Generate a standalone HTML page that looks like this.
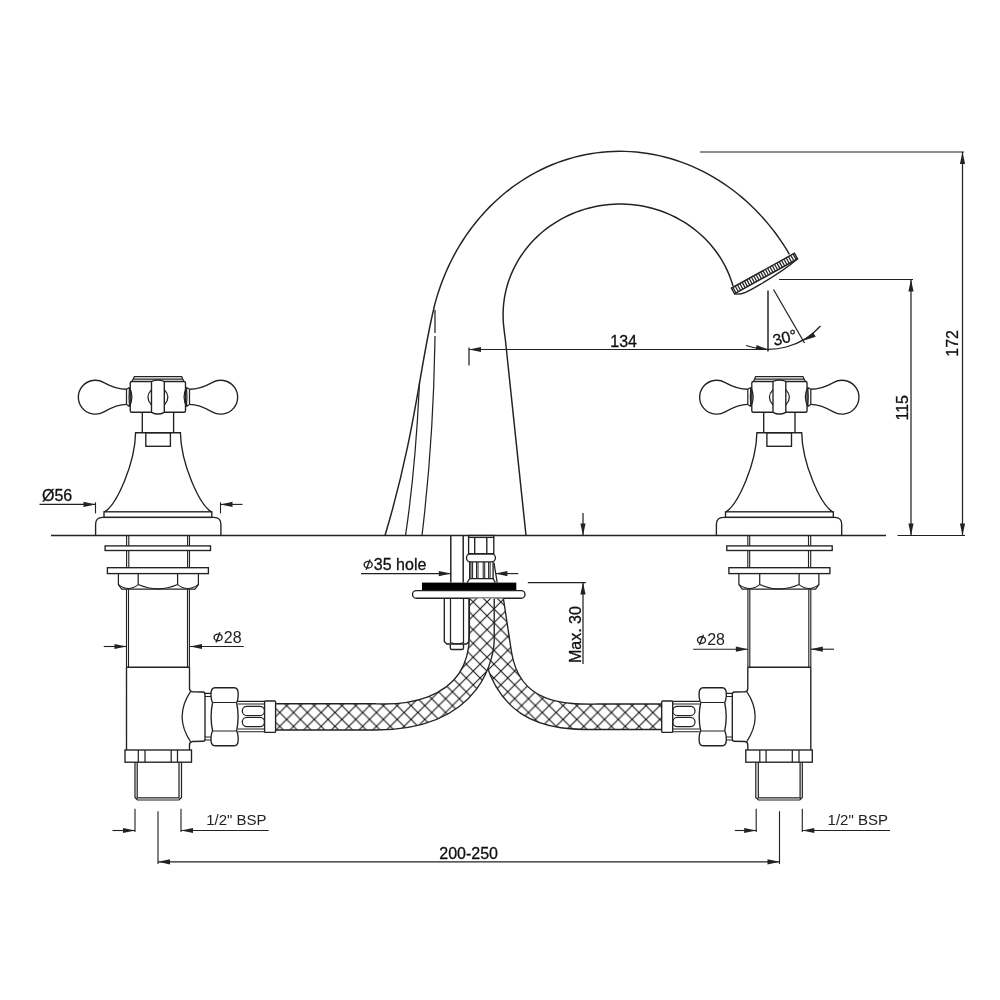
<!DOCTYPE html>
<html><head><meta charset="utf-8"><style>
html,body{margin:0;padding:0;background:#fff;}
svg{display:block;will-change:transform;}
</style></head><body>
<svg width="1000" height="1000" viewBox="0 0 1000 1000" fill="none" stroke="#222" stroke-linecap="butt" font-family="'Liberation Sans', sans-serif">
<rect x="0" y="0" width="1000" height="1000" fill="#fff" stroke="none"/>
<g stroke-width="1.36">
<line x1="51" y1="535.5" x2="886" y2="535.5" stroke-width="1.36"/>
<line x1="897.5" y1="535.5" x2="965" y2="535.5" stroke-width="1.24"/>
</g>
<path d="M385,535.5 C415.72,433.12 420.18,363.29 434.00,308.00 L433.85,307.97 L435.44,301.91 L437.20,295.87 L439.11,289.93 L441.17,284.06 L443.40,278.22 L445.76,272.50 L448.28,266.86 L450.97,261.28 L453.78,255.82 L456.75,250.42 L459.85,245.16 L463.08,240.00 L466.47,234.92 L469.98,229.99 L473.61,225.18 L477.39,220.46 L481.28,215.89 L485.28,211.45 L489.43,207.12 L493.66,202.96 L498.01,198.93 L502.48,195.03 L507.04,191.30 L511.72,187.69 L516.46,184.27 L521.30,180.99 L526.25,177.86 L531.26,174.91 L536.34,172.13 L541.53,169.49 L546.76,167.04 L552.05,164.77 L557.44,162.65 L562.85,160.72 L568.31,158.96 L573.85,157.38 L579.41,155.98 L584.99,154.76 L590.65,153.72 L596.30,152.87 L602.01,152.20 L607.70,151.71 L613.41,151.41 L619.16,151.29 L624.88,151.36 L630.60,151.61 L636.35,152.04 L642.05,152.66 L647.74,153.46 L653.45,154.46 L659.09,155.62 L664.71,156.97 L670.33,158.50 L675.87,160.21 L681.37,162.09 L686.85,164.16 L692.25,166.39 L697.63,168.81 L702.91,171.38 L708.12,174.12 L713.30,177.04 L718.37,180.11 L723.36,183.34 L728.29,186.74 L733.11,190.28 L737.84,193.97 L742.50,197.83 L747.03,201.82 L751.46,205.94 L755.81,210.23 L760.02,214.63 L764.15,219.19 L768.13,223.85 L771.99,228.63 L775.74,233.56 L779.35,238.58 L782.83,243.71 L786.19,248.97 L789.40,254.31" stroke-width="1.47"/>
<path d="M733,286 L733.00,286.00 L731.81,282.08 L730.46,278.21 L728.97,274.39 L727.33,270.62 L725.54,266.91 L723.61,263.27 L721.54,259.70 L719.34,256.22 L717.00,252.80 L714.52,249.46 L711.92,246.22 L709.20,243.06 L706.35,240.00 L703.38,237.05 L700.31,234.20 L697.12,231.46 L693.83,228.83 L690.44,226.32 L686.95,223.93 L683.37,221.66 L679.71,219.52 L675.97,217.50 L672.15,215.62 L668.28,213.88 L664.32,212.27 L660.30,210.80 L656.23,209.47 L652.11,208.28 L647.95,207.24 L643.75,206.34 L639.52,205.59 L635.26,204.99 L630.98,204.53 L626.68,204.23 L622.38,204.07 L618.07,204.07 L613.77,204.22 L609.47,204.51 L605.19,204.96 L600.95,205.55 L596.72,206.29 L592.51,207.18 L588.35,208.21 L584.22,209.39 L580.15,210.71 L576.13,212.17 L572.17,213.77 L568.27,215.51 L564.44,217.38 L560.69,219.39 L557.02,221.52 L553.44,223.78 L549.94,226.17 L546.55,228.67 L543.25,231.29 L540.06,234.01 L536.98,236.86 L534.00,239.80 L531.14,242.85 L528.41,246.00 L525.79,249.24 L523.31,252.57 L520.95,255.99 L518.73,259.48 L516.65,263.05 L514.71,266.69 L512.91,270.39 L511.25,274.15 L509.75,277.97 L508.39,281.84 L507.18,285.76 L506.13,289.69 L505.24,293.68 L504.49,297.69 L503.91,301.73 L503.48,305.79 L503.20,309.85 L503.09,313.93 L503.14,318.00 C503.1,322 503.6,327 505.4,340 L526,535.5" stroke-width="1.47"/>
<path d="M435,310 L435,333" stroke-width="1.24"/>
<path d="M435,336 C434.41,365.47 434.33,432.72 422.00,535.50" stroke-width="1.24"/>
<path d="M419.5,382.5 C418.37,405.13 415.97,465.71 405.50,535.50" stroke-width="1.24"/>
<g transform="translate(764.5,273.5) rotate(-29)">
<rect x="-36" y="-3.2" width="72" height="6.4" stroke-width="1.47"/>
<line x1="-34.40" y1="-3" x2="-34.40" y2="3" stroke-width="1.24"/>
<line x1="-31.75" y1="-3" x2="-31.75" y2="3" stroke-width="1.24"/>
<line x1="-29.10" y1="-3" x2="-29.10" y2="3" stroke-width="1.24"/>
<line x1="-26.45" y1="-3" x2="-26.45" y2="3" stroke-width="1.24"/>
<line x1="-23.80" y1="-3" x2="-23.80" y2="3" stroke-width="1.24"/>
<line x1="-21.15" y1="-3" x2="-21.15" y2="3" stroke-width="1.24"/>
<line x1="-18.50" y1="-3" x2="-18.50" y2="3" stroke-width="1.24"/>
<line x1="-15.85" y1="-3" x2="-15.85" y2="3" stroke-width="1.24"/>
<line x1="-13.20" y1="-3" x2="-13.20" y2="3" stroke-width="1.24"/>
<line x1="-10.55" y1="-3" x2="-10.55" y2="3" stroke-width="1.24"/>
<line x1="-7.90" y1="-3" x2="-7.90" y2="3" stroke-width="1.24"/>
<line x1="-5.25" y1="-3" x2="-5.25" y2="3" stroke-width="1.24"/>
<line x1="-2.60" y1="-3" x2="-2.60" y2="3" stroke-width="1.24"/>
<line x1="0.05" y1="-3" x2="0.05" y2="3" stroke-width="1.24"/>
<line x1="2.70" y1="-3" x2="2.70" y2="3" stroke-width="1.24"/>
<line x1="5.35" y1="-3" x2="5.35" y2="3" stroke-width="1.24"/>
<line x1="8.00" y1="-3" x2="8.00" y2="3" stroke-width="1.24"/>
<line x1="10.65" y1="-3" x2="10.65" y2="3" stroke-width="1.24"/>
<line x1="13.30" y1="-3" x2="13.30" y2="3" stroke-width="1.24"/>
<line x1="15.95" y1="-3" x2="15.95" y2="3" stroke-width="1.24"/>
<line x1="18.60" y1="-3" x2="18.60" y2="3" stroke-width="1.24"/>
<line x1="21.25" y1="-3" x2="21.25" y2="3" stroke-width="1.24"/>
<line x1="23.90" y1="-3" x2="23.90" y2="3" stroke-width="1.24"/>
<line x1="26.55" y1="-3" x2="26.55" y2="3" stroke-width="1.24"/>
<line x1="29.20" y1="-3" x2="29.20" y2="3" stroke-width="1.24"/>
<line x1="31.85" y1="-3" x2="31.85" y2="3" stroke-width="1.24"/>
<line x1="34.50" y1="-3" x2="34.50" y2="3" stroke-width="1.24"/>
<path d="M-36,3.2 C-31,8 -22,7.8 -10,7.5 C8,7.1 24,6 36,3.2" stroke-width="1.36"/>
</g>
<line x1="700" y1="152" x2="964" y2="152" stroke-width="1.24"/>
<line x1="962.5" y1="152" x2="962.5" y2="535.5" stroke-width="1.24"/>
<path d="M962.50,152.00 L965.10,164.00 L959.90,164.00Z" fill="#222" stroke="none"/>
<path d="M962.50,535.50 L959.90,523.50 L965.10,523.50Z" fill="#222" stroke="none"/>
<line x1="779" y1="279.5" x2="913" y2="279.5" stroke-width="1.24"/>
<line x1="911" y1="279.5" x2="911" y2="535.5" stroke-width="1.24"/>
<path d="M911.00,279.50 L913.60,291.50 L908.40,291.50Z" fill="#222" stroke="none"/>
<path d="M911.00,535.50 L908.40,523.50 L913.60,523.50Z" fill="#222" stroke="none"/>
<text fill="#111" stroke="#111" stroke-width="0.3" x="907.6" y="407.8" font-size="16" text-anchor="middle" transform="rotate(-90 907.6 407.8)">115</text>
<text fill="#111" stroke="#111" stroke-width="0.3" x="958" y="343.4" font-size="16" text-anchor="middle" transform="rotate(-90 958 343.4)">172</text>
<line x1="469" y1="349.5" x2="768" y2="349.5" stroke-width="1.24"/>
<line x1="469" y1="347.5" x2="469" y2="365.5" stroke-width="1.24"/>
<path d="M469.00,349.50 L481.00,346.90 L481.00,352.10Z" fill="#222" stroke="none"/>
<text fill="#111" stroke="#111" stroke-width="0.3" x="623.6" y="346.8" font-size="16" text-anchor="middle">134</text>
<line x1="768" y1="290.5" x2="768" y2="351.5" stroke-width="1.47"/>
<line x1="773.5" y1="289.5" x2="804.5" y2="343" stroke-width="1.24"/>
<path d="M746,345.5 A69.5,69.5 0 0 0 820.5,326" stroke-width="1.24"/>
<path d="M768.00,349.50 L755.73,350.05 L756.61,344.93Z" fill="#222" stroke="none"/>
<path d="M804.00,340.50 L813.07,332.22 L815.68,336.72Z" fill="#222" stroke="none"/>
<text fill="#111" stroke="#111" stroke-width="0.3" x="774.5" y="346" font-size="16" transform="rotate(-15 774.5 346)">30°</text>
<line x1="583" y1="513" x2="583" y2="535.5" stroke-width="1.24"/>
<path d="M583.00,535.50 L580.40,523.50 L585.60,523.50Z" fill="#222" stroke="none"/>
<line x1="450.8" y1="535.5" x2="450.8" y2="582.6" stroke-width="1.47"/>
<line x1="463.2" y1="535.5" x2="463.2" y2="582.6" stroke-width="1.47"/>
<rect x="468.6" y="535.5" width="25.2" height="18.3" stroke-width="1.36"/>
<line x1="468.6" y1="537.5" x2="493.8" y2="537.5" stroke-width="1.13"/>
<line x1="474.7" y1="537.5" x2="474.7" y2="553.8" stroke-width="1.36"/>
<line x1="486.8" y1="537.5" x2="486.8" y2="553.8" stroke-width="1.36"/>
<rect x="466.5" y="553.8" width="28.9" height="8.1" rx="4" stroke-width="1.36"/>
<path d="M469.7,561.9 L469.7,578.6 L493.1,578.6 L493.1,561.9" stroke-width="1.36"/>
<line x1="471" y1="562" x2="471" y2="578.6" stroke-width="1.02"/>
<line x1="472.6" y1="562" x2="472.6" y2="578.6" stroke-width="1.02"/>
<line x1="476.5" y1="562" x2="476.5" y2="578.6" stroke-width="1.02"/>
<line x1="478" y1="562" x2="478" y2="578.6" stroke-width="1.02"/>
<line x1="483.2" y1="562" x2="483.2" y2="578.6" stroke-width="1.02"/>
<line x1="484.7" y1="562" x2="484.7" y2="578.6" stroke-width="1.02"/>
<line x1="488.6" y1="562" x2="488.6" y2="578.6" stroke-width="1.02"/>
<line x1="490.1" y1="562" x2="490.1" y2="578.6" stroke-width="1.02"/>
<path d="M467,582.6 L469.7,578.6 M493.1,578.6 L495.4,582.6 M494,562.8 L497.2,582.6" stroke-width="1.24"/>
<rect x="422" y="582.6" width="94.3" height="7.9" fill="#000" stroke="none"/>
<rect x="412.5" y="590.6" width="112.5" height="7.6" rx="3.8" stroke-width="1.36"/>
<path d="M444.3,598.2 L444.3,641.5 L446.8,644 L466.5,644 L469,641.5 L469,598.2" stroke-width="1.36"/>
<path d="M450.5,598.2 L450.5,642.5 Q457,645 463.5,642.5 L463.5,598.2" stroke-width="1.24"/>
<path d="M450.3,644 L450.3,648 Q450.3,649.5 452,649.5 L461.8,649.5 Q463.5,649.5 463.5,648 L463.5,644" stroke-width="1.36"/>
<ellipse cx="368.20" cy="564.65" rx="4.0" ry="3.3" stroke-width="1.41"/>
<line x1="366.10" y1="569.70" x2="370.10" y2="559.40" stroke-width="1.41"/>
<text fill="#111" stroke="#111" stroke-width="0.3" x="373.85" y="570" font-size="16" text-anchor="start">35 hole</text>
<line x1="361" y1="573.6" x2="450.8" y2="573.6" stroke-width="1.13"/>
<path d="M450.80,573.60 L438.80,576.20 L438.80,571.00Z" fill="#222" stroke="none"/>
<line x1="495.4" y1="573.6" x2="518.3" y2="573.6" stroke-width="1.13"/>
<path d="M495.40,573.60 L507.40,571.00 L507.40,576.20Z" fill="#222" stroke="none"/>
<line x1="527.8" y1="582.6" x2="585.8" y2="582.6" stroke-width="1.24"/>
<line x1="583" y1="582.6" x2="583" y2="664" stroke-width="1.24"/>
<path d="M583.00,582.60 L585.60,594.60 L580.40,594.60Z" fill="#222" stroke="none"/>
<text fill="#111" stroke="#111" stroke-width="0.3" x="581.5" y="634.6" font-size="16" text-anchor="middle" transform="rotate(-90 581.5 634.6)">Max. 30</text>
<defs><pattern id="hatch" patternUnits="userSpaceOnUse" width="13.82" height="13.82" x="300.45" y="705.6"><path d="M-1,-1 L14.82,14.82 M14.82,-1 L-1,14.82" stroke="#111" stroke-width="1.05"/></pattern></defs>
<path d="M477.5,598.5 L477.5,599 C477.50,736.14 560.32,729.50 605.00,729.50 L661.4,729.5 L661.4,704 L605,704 C572.54,704.00 520.58,708.76 511.5,652 L503.4,598.5 Z" fill="#fff" stroke="none"/>
<path d="M477.5,598.5 L477.5,599 C477.50,736.14 560.32,729.50 605.00,729.50 L661.4,729.5 L661.4,704 L605,704 C572.54,704.00 520.58,708.76 511.5,652 L503.4,598.5 Z" fill="url(#hatch)" stroke="none"/>
<path d="M503.4,598.5 L511.5,652 C520.58,708.76 572.54,704.00 605.00,704.00 L661.4,704 M661.4,729.5 L605,729.5 C560.32,729.50 477.50,736.14 477.5,599" stroke-width="1.36"/>
<path d="M469.4,598.5 L469.4,635 C469.40,711.42 380.84,703.80 375.00,703.80 L275.5,703.8 L275.5,730 L375,730 C487.27,730.00 494.20,650.38 494.2,640 L494.2,598.5 Z" fill="#fff" stroke="none"/>
<path d="M469.4,598.5 L469.4,635 C469.40,711.42 380.84,703.80 375.00,703.80 L275.5,703.8 L275.5,730 L375,730 C487.27,730.00 494.20,650.38 494.2,640 L494.2,598.5 Z" fill="url(#hatch)" stroke="none"/>
<path d="M469.4,598.5 L469.4,635 C469.40,711.42 380.84,703.80 375.00,703.80 L275.5,703.8 M275.5,730 L375,730 C487.27,730.00 494.20,650.38 494.2,640 L494.2,598.5" stroke-width="1.36"/>
<g><path d="M126.5,389.3 C118,389.3 110,386 103.9,382.6 A16.95,16.95 0 1 0 103.9,411.8 C110,408.4 118,404.4 126.5,404.4" stroke-width="1.36"/>
<g transform="translate(316,0) scale(-1,1)"><path d="M126.5,389.3 C118,389.3 110,386 103.9,382.6 A16.95,16.95 0 1 0 103.9,411.8 C110,408.4 118,404.4 126.5,404.4" stroke-width="1.36"/></g>
<path d="M126.5,389.3 L129.5,387.4 M126.5,404.4 L129.5,406.6 M126.5,389.3 L126.5,404.4 M129.5,387.4 Q128.6,397 129.5,406.6 M129.5,387.4 Q134.3,397 129.5,406.6" stroke-width="1.24"/>
<path d="M189.5,389.3 L186.5,387.4 M189.5,404.4 L186.5,406.6 M189.5,389.3 L189.5,404.4 M186.5,387.4 Q187.4,397 186.5,406.6 M186.5,387.4 Q181.7,397 186.5,406.6" stroke-width="1.24"/>
<rect x="130.25" y="381.5" width="55.25" height="30.8" rx="1.5" stroke-width="1.36"/>
<path d="M132,381.5 L134.4,376.6 L181.7,376.6 L183.8,381.5 M132.8,379.1 L183.2,379.1" stroke-width="1.24"/>
<path d="M151.5,381.5 Q157.9,378.6 164.3,381.5 L164.3,412.3 Q157.9,415.8 151.5,412.3 Z" fill="#fff" stroke-width="1.36"/>
<path d="M151.5,389.6 Q144.2,397.3 151.5,405 M164.3,389.6 Q171.6,397.3 164.3,405" stroke-width="1.24"/>
<path d="M142.3,412.3 L142.3,432.7 M173.6,412.3 L173.6,432.7" stroke-width="1.36"/>
<path d="M104.7,511.8 C116.86,504.51 134.99,463.42 135.6,432.7 L180.4,432.7 C181.01,463.42 199.14,504.51 211.3,511.8" stroke-width="1.36"/>
<rect x="145.8" y="432.7" width="24.6" height="13.6" stroke-width="1.36"/>
<rect x="104" y="511.8" width="107.8" height="5.6" stroke-width="1.36"/>
<path d="M95.6,535.5 L95.6,524.4 Q95.6,517.4 102.6,517.4 L213.9,517.4 Q220.9,517.4 220.9,524.4 L220.9,535.5" stroke-width="1.36"/>
<path d="M126.6,535.5 L126.6,545.9 M128.8,535.5 L128.8,545.9 M187.6,535.5 L187.6,545.9 M189.5,535.5 L189.5,545.9 M126.6,550.5 L126.6,567.7 M128.8,550.5 L128.8,567.7 M187.6,550.5 L187.6,567.7 M189.5,550.5 L189.5,567.7" stroke-width="1.13"/>
<rect x="105.1" y="545.9" width="105.4" height="4.6" stroke-width="1.36"/>
<rect x="107.4" y="567.7" width="101" height="5.9" stroke-width="1.36"/>
<path d="M118.4,573.6 L118.4,584.6 L121.7,589.2 L195,589.2 L198.4,584.6 L198.4,573.6 M138.2,573.6 L138.2,584.6 M177.6,573.6 L177.6,584.6" stroke-width="1.24"/>
<path d="M118.6,584.6 Q128.4,592.4 138.2,584.6 Q157.9,593.2 177.6,584.6 Q187.4,592.4 198.2,584.6" stroke-width="1.13"/>
<path d="M126.5,589.2 L126.5,667.2 M128.5,589.2 L128.5,667.2 M189.4,589.2 L189.4,667.2 M187.5,589.2 L187.5,667.2" stroke-width="1.13"/>
<path d="M126.5,667.2 L189.5,667.2" stroke-width="1.36"/>
<path d="M126.5,667.2 L126.5,750 M189.5,667.2 L189.5,688.5 Q189.5,691.6 192.5,691.8 L203,692 Q205,692.2 205,694.5 L205,739 Q205,741.2 203,741.2 L192.5,741.5 Q189.5,741.8 189.5,745 L189.5,750" stroke-width="1.36"/>
<path d="M190.5,691.6 Q173.8,716.6 190.5,741.6" stroke-width="1.24"/>
<path d="M205,693.4 L211,693.4 M205,696.5 L211,696.5 M205,737 L211,737 M205,740 L211,740" stroke-width="1.13"/>
<path d="M212.6,702.5 Q211,700 211,694 Q211,687.8 215,687.8 L234.2,687.8 Q238.2,687.8 238.2,694 Q238.2,700 236.6,702.5 M212.6,731 Q211,733.5 211,739.5 Q211,745.7 215,745.7 L234.2,745.7 Q238.2,745.7 238.2,739.5 Q238.2,733.5 236.6,731" stroke-width="1.36"/>
<path d="M212.6,702.5 L236.6,702.5 M212.6,731 L236.6,731" stroke-width="1.24"/>
<path d="M212.6,702.5 Q209.6,716.75 212.6,731 M236.6,702.5 Q239.6,716.75 236.6,731" stroke-width="1.36"/>
<path d="M237.6,701.4 L265,701.4 M237.6,704 L265,704 M237.6,729 L265,729 M237.6,731.8 L265,731.8" stroke-width="1.13"/>
<rect x="242.3" y="706.3" width="22.2" height="9.2" rx="4.5" stroke-width="1.24"/>
<rect x="242.3" y="717.4" width="22.2" height="9.2" rx="4.5" stroke-width="1.24"/>
<rect x="264.6" y="701" width="11" height="31.4" rx="1" fill="#fff" stroke-width="1.36"/>
<rect x="125" y="750" width="66.5" height="12.2" stroke-width="1.36"/>
<path d="M138.3,750 L138.3,762.2 M145,750 L145,762.2 M171.2,750 L171.2,762.2 M177.5,750 L177.5,762.2" stroke-width="1.24"/>
<path d="M135,762.2 L135,797.5 L137.5,800 L179,800 L181.5,797.5 L181.5,762.2 M137.2,762.2 L137.2,797.8 L179,797.8 L179,762.2" stroke-width="1.24"/></g>
<g transform="translate(937.3,0) scale(-1,1)"><path d="M126.5,389.3 C118,389.3 110,386 103.9,382.6 A16.95,16.95 0 1 0 103.9,411.8 C110,408.4 118,404.4 126.5,404.4" stroke-width="1.36"/>
<g transform="translate(316,0) scale(-1,1)"><path d="M126.5,389.3 C118,389.3 110,386 103.9,382.6 A16.95,16.95 0 1 0 103.9,411.8 C110,408.4 118,404.4 126.5,404.4" stroke-width="1.36"/></g>
<path d="M126.5,389.3 L129.5,387.4 M126.5,404.4 L129.5,406.6 M126.5,389.3 L126.5,404.4 M129.5,387.4 Q128.6,397 129.5,406.6 M129.5,387.4 Q134.3,397 129.5,406.6" stroke-width="1.24"/>
<path d="M189.5,389.3 L186.5,387.4 M189.5,404.4 L186.5,406.6 M189.5,389.3 L189.5,404.4 M186.5,387.4 Q187.4,397 186.5,406.6 M186.5,387.4 Q181.7,397 186.5,406.6" stroke-width="1.24"/>
<rect x="130.25" y="381.5" width="55.25" height="30.8" rx="1.5" stroke-width="1.36"/>
<path d="M132,381.5 L134.4,376.6 L181.7,376.6 L183.8,381.5 M132.8,379.1 L183.2,379.1" stroke-width="1.24"/>
<path d="M151.5,381.5 Q157.9,378.6 164.3,381.5 L164.3,412.3 Q157.9,415.8 151.5,412.3 Z" fill="#fff" stroke-width="1.36"/>
<path d="M151.5,389.6 Q144.2,397.3 151.5,405 M164.3,389.6 Q171.6,397.3 164.3,405" stroke-width="1.24"/>
<path d="M142.3,412.3 L142.3,432.7 M173.6,412.3 L173.6,432.7" stroke-width="1.36"/>
<path d="M104.7,511.8 C116.86,504.51 134.99,463.42 135.6,432.7 L180.4,432.7 C181.01,463.42 199.14,504.51 211.3,511.8" stroke-width="1.36"/>
<rect x="145.8" y="432.7" width="24.6" height="13.6" stroke-width="1.36"/>
<rect x="104" y="511.8" width="107.8" height="5.6" stroke-width="1.36"/>
<path d="M95.6,535.5 L95.6,524.4 Q95.6,517.4 102.6,517.4 L213.9,517.4 Q220.9,517.4 220.9,524.4 L220.9,535.5" stroke-width="1.36"/>
<path d="M126.6,535.5 L126.6,545.9 M128.8,535.5 L128.8,545.9 M187.6,535.5 L187.6,545.9 M189.5,535.5 L189.5,545.9 M126.6,550.5 L126.6,567.7 M128.8,550.5 L128.8,567.7 M187.6,550.5 L187.6,567.7 M189.5,550.5 L189.5,567.7" stroke-width="1.13"/>
<rect x="105.1" y="545.9" width="105.4" height="4.6" stroke-width="1.36"/>
<rect x="107.4" y="567.7" width="101" height="5.9" stroke-width="1.36"/>
<path d="M118.4,573.6 L118.4,584.6 L121.7,589.2 L195,589.2 L198.4,584.6 L198.4,573.6 M138.2,573.6 L138.2,584.6 M177.6,573.6 L177.6,584.6" stroke-width="1.24"/>
<path d="M118.6,584.6 Q128.4,592.4 138.2,584.6 Q157.9,593.2 177.6,584.6 Q187.4,592.4 198.2,584.6" stroke-width="1.13"/>
<path d="M126.5,589.2 L126.5,667.2 M128.5,589.2 L128.5,667.2 M189.4,589.2 L189.4,667.2 M187.5,589.2 L187.5,667.2" stroke-width="1.13"/>
<path d="M126.5,667.2 L189.5,667.2" stroke-width="1.36"/>
<path d="M126.5,667.2 L126.5,750 M189.5,667.2 L189.5,688.5 Q189.5,691.6 192.5,691.8 L203,692 Q205,692.2 205,694.5 L205,739 Q205,741.2 203,741.2 L192.5,741.5 Q189.5,741.8 189.5,745 L189.5,750" stroke-width="1.36"/>
<path d="M190.5,691.6 Q173.8,716.6 190.5,741.6" stroke-width="1.24"/>
<path d="M205,693.4 L211,693.4 M205,696.5 L211,696.5 M205,737 L211,737 M205,740 L211,740" stroke-width="1.13"/>
<path d="M212.6,702.5 Q211,700 211,694 Q211,687.8 215,687.8 L234.2,687.8 Q238.2,687.8 238.2,694 Q238.2,700 236.6,702.5 M212.6,731 Q211,733.5 211,739.5 Q211,745.7 215,745.7 L234.2,745.7 Q238.2,745.7 238.2,739.5 Q238.2,733.5 236.6,731" stroke-width="1.36"/>
<path d="M212.6,702.5 L236.6,702.5 M212.6,731 L236.6,731" stroke-width="1.24"/>
<path d="M212.6,702.5 Q209.6,716.75 212.6,731 M236.6,702.5 Q239.6,716.75 236.6,731" stroke-width="1.36"/>
<path d="M237.6,701.4 L265,701.4 M237.6,704 L265,704 M237.6,729 L265,729 M237.6,731.8 L265,731.8" stroke-width="1.13"/>
<rect x="242.3" y="706.3" width="22.2" height="9.2" rx="4.5" stroke-width="1.24"/>
<rect x="242.3" y="717.4" width="22.2" height="9.2" rx="4.5" stroke-width="1.24"/>
<rect x="264.6" y="701" width="11" height="31.4" rx="1" fill="#fff" stroke-width="1.36"/>
<rect x="125" y="750" width="66.5" height="12.2" stroke-width="1.36"/>
<path d="M138.3,750 L138.3,762.2 M145,750 L145,762.2 M171.2,750 L171.2,762.2 M177.5,750 L177.5,762.2" stroke-width="1.24"/>
<path d="M135,762.2 L135,797.5 L137.5,800 L179,800 L181.5,797.5 L181.5,762.2 M137.2,762.2 L137.2,797.8 L179,797.8 L179,762.2" stroke-width="1.24"/></g>
<text fill="#111" stroke="#111" stroke-width="0.3" x="42" y="501" font-size="16" text-anchor="start">Ø56</text>
<line x1="39.5" y1="504.4" x2="95.5" y2="504.4" stroke-width="1.13"/>
<path d="M95.50,504.40 L83.50,507.00 L83.50,501.80Z" fill="#222" stroke="none"/>
<line x1="95.5" y1="502.3" x2="95.5" y2="513.4" stroke-width="1.13"/>
<line x1="220.5" y1="504.4" x2="242.5" y2="504.4" stroke-width="1.13"/>
<path d="M220.50,504.40 L232.50,501.80 L232.50,507.00Z" fill="#222" stroke="none"/>
<line x1="220.5" y1="502.3" x2="220.5" y2="513.4" stroke-width="1.13"/>
<ellipse cx="218.10" cy="637.40" rx="4.0" ry="3.3" stroke-width="1.41"/>
<line x1="216.00" y1="642.45" x2="220.00" y2="632.15" stroke-width="1.41"/>
<text fill="#222" stroke="none" x="223.75" y="642.75" font-size="16">28</text>
<line x1="103.7" y1="646.5" x2="126.5" y2="646.5" stroke-width="1.13"/>
<path d="M126.50,646.50 L114.50,649.10 L114.50,643.90Z" fill="#222" stroke="none"/>
<line x1="190" y1="646.5" x2="243.7" y2="646.5" stroke-width="1.13"/>
<path d="M190.00,646.50 L202.00,643.90 L202.00,649.10Z" fill="#222" stroke="none"/>
<ellipse cx="701.50" cy="640.05" rx="4.0" ry="3.3" stroke-width="1.41"/>
<line x1="699.40" y1="645.10" x2="703.40" y2="634.80" stroke-width="1.41"/>
<text fill="#222" stroke="none" x="707.15" y="645.4" font-size="16">28</text>
<line x1="693.2" y1="649.2" x2="747.9" y2="649.2" stroke-width="1.13"/>
<path d="M747.90,649.20 L735.90,651.80 L735.90,646.60Z" fill="#222" stroke="none"/>
<line x1="810.8" y1="649.2" x2="834" y2="649.2" stroke-width="1.13"/>
<path d="M810.80,649.20 L822.80,646.60 L822.80,651.80Z" fill="#222" stroke="none"/>
<line x1="135" y1="808.7" x2="135" y2="832" stroke-width="1.13"/>
<line x1="181" y1="808.7" x2="181" y2="832" stroke-width="1.13"/>
<line x1="112.5" y1="830.5" x2="135" y2="830.5" stroke-width="1.13"/>
<path d="M135.00,830.50 L123.00,833.10 L123.00,827.90Z" fill="#222" stroke="none"/>
<line x1="181" y1="830.5" x2="268.7" y2="830.5" stroke-width="1.13"/>
<path d="M181.00,830.50 L193.00,827.90 L193.00,833.10Z" fill="#222" stroke="none"/>
<text fill="#222" stroke="none" x="206.2" y="825" font-size="15">1/2" BSP</text>
<line x1="756.2" y1="808.7" x2="756.2" y2="832" stroke-width="1.13"/>
<line x1="802.3" y1="808.7" x2="802.3" y2="832" stroke-width="1.13"/>
<line x1="734.8" y1="830.5" x2="756.2" y2="830.5" stroke-width="1.13"/>
<path d="M756.20,830.50 L744.20,833.10 L744.20,827.90Z" fill="#222" stroke="none"/>
<line x1="802.3" y1="830.5" x2="890" y2="830.5" stroke-width="1.13"/>
<path d="M802.30,830.50 L814.30,827.90 L814.30,833.10Z" fill="#222" stroke="none"/>
<text fill="#222" stroke="none" x="827.6" y="825" font-size="15">1/2" BSP</text>
<line x1="158" y1="811.2" x2="158" y2="864" stroke-width="1.13"/>
<line x1="779.5" y1="811.2" x2="779.5" y2="864" stroke-width="1.13"/>
<line x1="158" y1="861.8" x2="779.5" y2="861.8" stroke-width="1.24"/>
<path d="M158.00,861.80 L170.00,859.20 L170.00,864.40Z" fill="#222" stroke="none"/>
<path d="M779.50,861.80 L767.50,864.40 L767.50,859.20Z" fill="#222" stroke="none"/>
<text fill="#111" stroke="#111" stroke-width="0.3" x="468.6" y="858.5" font-size="16" text-anchor="middle">200-250</text>
</svg>
</body></html>
